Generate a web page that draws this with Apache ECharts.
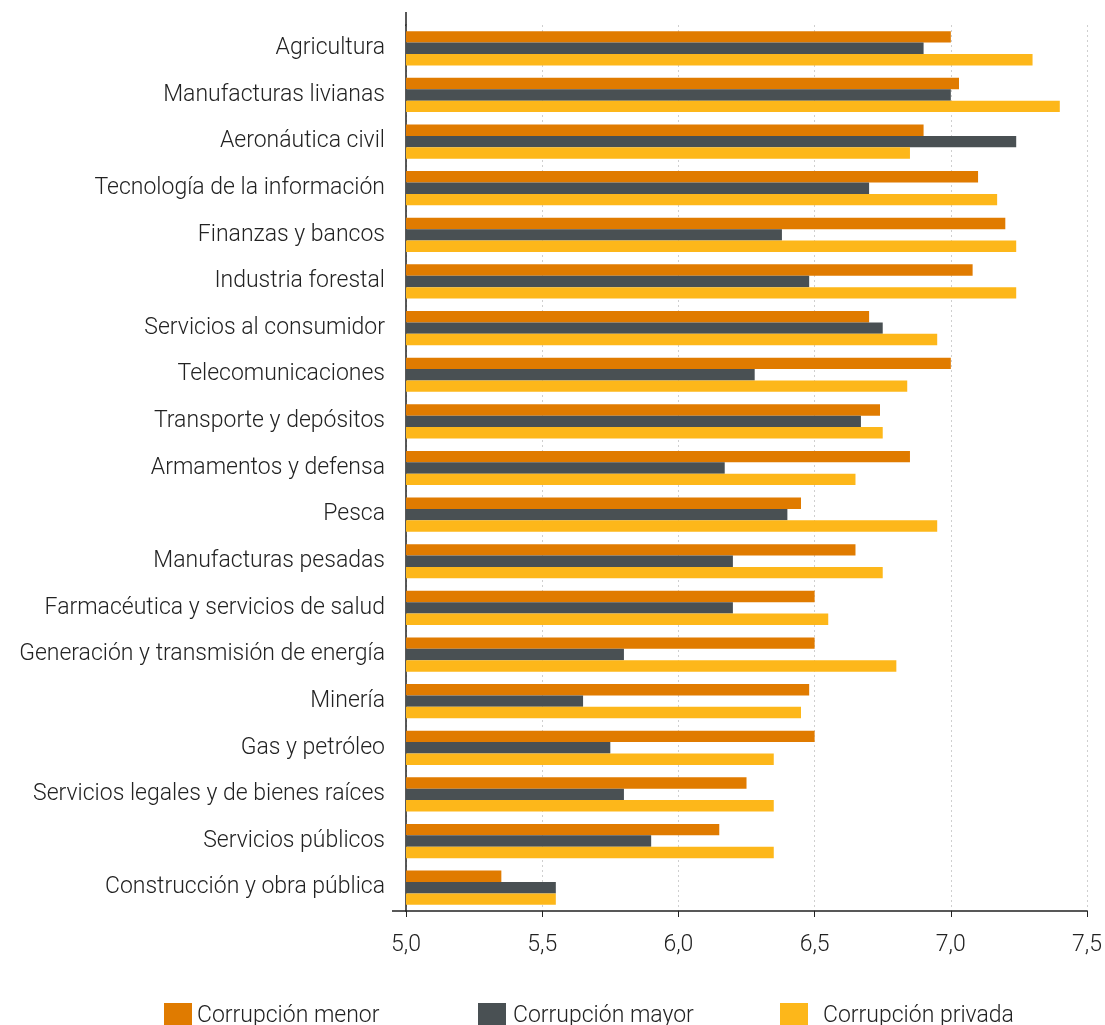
<!DOCTYPE html>
<html><head><meta charset="utf-8">
<script src="https://cdn.jsdelivr.net/npm/echarts@6/dist/echarts.min.js"></script>
<style>html,body{margin:0;padding:0;background:#fff}#c{width:1105px;height:1025px}</style>
</head><body><div id="c"></div>
<script>
const categories = ["Agricultura","Manufacturas livianas","Aeronáutica civil","Tecnología de la información","Finanzas y bancos","Industria forestal","Servicios al consumidor","Telecomunicaciones","Transporte y depósitos","Armamentos y defensa","Pesca","Manufacturas pesadas","Farmacéutica y servicios de salud","Generación y transmisión de energía","Minería","Gas y petróleo","Servicios legales y de bienes raíces","Servicios públicos","Construcción y obra pública"];
const menor   = [7.0, 7.03, 6.9, 7.1, 7.2, 7.08, 6.7, 7.0, 6.74, 6.85, 6.45, 6.65, 6.5, 6.5, 6.48, 6.5, 6.25, 6.15, 5.35];
const mayor   = [6.9, 7.0, 7.24, 6.7, 6.38, 6.48, 6.75, 6.28, 6.67, 6.17, 6.4, 6.2, 6.2, 5.8, 5.65, 5.75, 5.8, 5.9, 5.55];
const privada = [7.3, 7.4, 6.85, 7.17, 7.24, 7.24, 6.95, 6.84, 6.75, 6.65, 6.95, 6.75, 6.55, 6.8, 6.45, 6.35, 6.35, 6.35, 5.55];
const seriesNames = ["Corrupción menor","Corrupción mayor","Corrupción privada"];
const xTicks = {min: 5.0, max: 7.5, interval: 0.5};

const FONT = 'Roboto';
const FS = 23;
const chart = echarts.init(document.getElementById('c'));
const colors = ['#E07B00','#495053','#FDB71A'];
const legendLefts = [159, 473, 775];
const legendPads = [0, 2, 10];
chart.setOption({
  animation: false,
  grid: {left: 406, right: 17, top: 25, bottom: 114},
  legend: seriesNames.map((n, i) => ({
    top: 998, left: legendLefts[i], itemWidth: 28, itemHeight: 26, itemGap: 0,
    icon: 'rect',
    textStyle: {fontFamily: FONT, fontWeight: 300, fontSize: FS, color: '#222', padding: [0,0,0,legendPads[i]]},
    data: [n]
  })),
  xAxis: {
    type: 'value', min: xTicks.min, max: xTicks.max, interval: xTicks.interval,
    axisLine: {show: true, lineStyle: {color: '#222', width: 1.5}},
    axisTick: {show: true, length: 6, lineStyle: {color: '#222'}},
    axisLabel: {fontFamily: FONT, fontWeight: 300, fontSize: FS, color: '#222', margin: 23,
      formatter: v => v.toFixed(1).replace('.', ',')},
    splitLine: {show: true, lineStyle: {color: '#cfcfcf', type: [2,3], width: 1}}
  },
  yAxis: {
    type: 'category', data: categories, inverse: true,
    axisLine: {show: true, lineStyle: {color: '#222', width: 1.5}},
    axisTick: {show: false},
    axisLabel: {fontFamily: FONT, fontWeight: 300, fontSize: FS, color: '#222', margin: 21}
  },
  series: [menor, mayor, privada].map((d, i) => ({
    name: seriesNames[i], type: 'bar', data: d,
    itemStyle: {color: colors[i]},
    barWidth: 11.4, barGap: '0%', barCategoryGap: '27%'
  })),
  graphic: [{type: 'line', shape: {x1: 406, y1: 12, x2: 406, y2: 26}, style: {stroke: '#222', lineWidth: 1.5}},
            {type: 'line', shape: {x1: 392, y1: 911, x2: 406, y2: 911}, style: {stroke: '#222', lineWidth: 1.5}}]
});
</script></body></html>
